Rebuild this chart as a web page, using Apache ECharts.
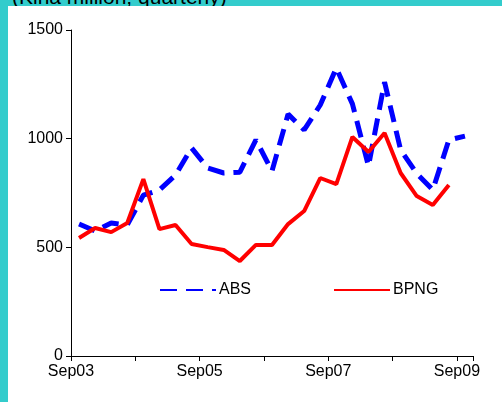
<!DOCTYPE html>
<html>
<head>
<meta charset="utf-8">
<script src="https://cdn.jsdelivr.net/npm/echarts@6/dist/echarts.min.js"></script>
<style>
  html, body { margin: 0; padding: 0; background: #33cccc; }
  #chart { position: absolute; left: 8px; top: 6px; width: 494px; height: 396px; background: #fff; }
  #title { position: absolute; left: 12px; top: -15px; font: 21px "Liberation Sans", Arial, sans-serif; color: #000; }
</style>
</head>
<body>
<div id="title">(Kina million; quarterly)</div>
<div id="chart"></div>
<script>
// quarterly, Sep03 .. Sep09
var yearLabels = ['Sep03', '', 'Sep05', '', 'Sep07', '', 'Sep09'];
var absValues = [607, 575, 612, 603, 740, 764, 833, 957, 865, 842, 846, 994, 851,
  1113, 1040, 1155, 1325, 1160, 874, 1260, 948, 840, 764, 994, 1012];
var bpngValues = [543, 589, 570, 612, 814, 584, 603, 515, 501, 488, 437, 511, 511,
  607, 667, 819, 791, 1008, 939, 1026, 842, 736, 695, 787];

function toPoints(arr) {
  return arr.map(function (v, i) { return [i + 0.5, v]; });
}

var myChart = echarts.init(document.getElementById('chart'));
var option = {
  animation: false,
  textStyle: { fontFamily: 'Liberation Sans, Arial, sans-serif' },
  grid: { left: 63, top: 24, right: 29, bottom: 46 },
  legend: {
    top: 271, left: 146,
    itemGap: 82,
    itemWidth: 56, itemHeight: 10,
    itemStyle: { opacity: 0 },
    textStyle: { fontSize: 16, color: '#000', padding: [0, 0, 0, -2] },
    data: ['ABS', 'BPNG']
  },
  xAxis: {
    type: 'value',
    min: 0, max: 25, interval: 4,
    axisLine: { lineStyle: { color: '#000', width: 1 } },
    axisTick: { length: 5, lineStyle: { color: '#000' } },
    splitLine: { show: false },
    axisLabel: {
      color: '#000', fontSize: 16, margin: 8,
      formatter: function (v) { return yearLabels[v / 4] || ''; }
    }
  },
  yAxis: {
    type: 'value',
    min: 0, max: 1500, interval: 500,
    axisLine: { show: true, lineStyle: { color: '#000', width: 1 } },
    axisTick: { show: true, length: 5, lineStyle: { color: '#000' } },
    splitLine: { show: false },
    axisLabel: { color: '#000', fontSize: 16, margin: 8, formatter: function (v) { return String(v); } }
  },
  series: [{
    name: 'ABS',
    type: 'line',
    symbol: 'none',
    data: toPoints(absValues),
    itemStyle: { color: '#0000ff' },
    lineStyle: { color: '#0000ff', width: 5, type: [17, 9] }
  }, {
    name: 'BPNG',
    type: 'line',
    symbol: 'none',
    data: toPoints(bpngValues),
    itemStyle: { color: '#ff0000' },
    lineStyle: { color: '#ff0000', width: 4 }
  }]
};
myChart.setOption(option);
</script>
</body>
</html>
